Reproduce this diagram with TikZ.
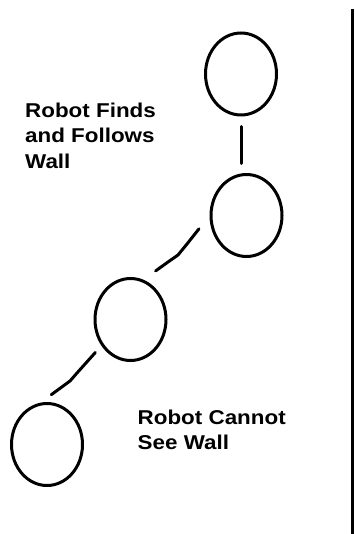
\documentclass[tikz,border=0pt]{standalone}
\usepackage{fontspec}
\usepackage{tikz}
\usetikzlibrary{shapes.geometric}
\newfontfamily\labelfont{Liberation Sans}[FakeStretch=1.12]

\begin{document}
\begin{tikzpicture}[x=1pt, y=-1pt]
    \tikzstyle{robot} = [ellipse, draw, line width=3pt, minimum width=71pt, minimum height=82pt, inner sep=0pt]
    \tikzstyle{track} = [line width=3pt, line cap=round, line join=round]
    \tikzstyle{note} = [font=\labelfont\bfseries\fontsize{20}{25.7}\selectfont, align=left, anchor=north west, inner sep=0pt]

    \useasboundingbox (0,0) rectangle (354,534);

    \node [robot] (r1) at (241,74) {};
    \node [robot] (r2) at (246.5,215.5) {};
    \node [robot] (r3) at (130.5,319.5) {};
    \node [robot] (r4) at (47,444.5) {};

    \node [note] (follow) at (25,102.5) {Robot Finds\\and Follows\\Wall};
    \node [note] (lost) at (137.5,409.5) {Robot Cannot\\See Wall};

    % bends of the hand drawn tracks
    \coordinate (w1) at (187,244);
    \coordinate (w2) at (178,255);
    \coordinate (w3) at (168,262);
    \coordinate (v1) at (77,373);
    \coordinate (v2) at (70,381);

    \draw [track, shorten <=10pt, shorten >=9.5pt] (r1.south) -- (r1.south |- r2.north);
    \draw [track, shorten <=17pt, shorten >=15pt] (r2.west) -- (w1) -- (w2) -- (w3) -- (r3.72);
    \draw [track, shorten <=9pt, shorten >=13.5pt] (r3.222) -- (v1) -- (v2) -- (r4.99);

    % wall
    \draw [line width=3pt] (352.5,9.5) -- (352.5,534);
\end{tikzpicture}
\end{document}
